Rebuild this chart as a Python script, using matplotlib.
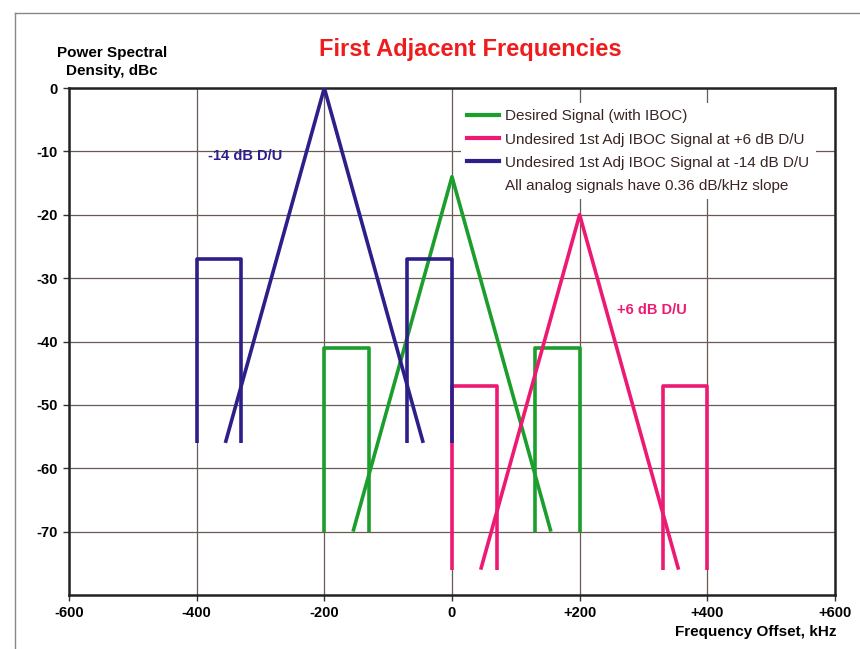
import matplotlib
matplotlib.use('Agg')
import matplotlib.pyplot as plt
from matplotlib.lines import Line2D

plt.rcParams['font.family'] = ['Liberation Sans', 'DejaVu Sans']
plt.rcParams['axes.unicode_minus'] = False

# Tick positions and labels
x_ticks = [-600, -400, -200, 0, 200, 400, 600]
x_labels = ['-600', '-400', '-200', '0', '+200', '+400', '+600']
y_ticks = [0, -10, -20, -30, -40, -50, -60, -70]
y_labels = ['0', '-10', '-20', '-30', '-40', '-50', '-60', '-70']

# Desired signal (with IBOC), centred at 0 kHz
desired_analog_x = [-155, 0, 155]
desired_analog_y = [-70, -14, -70]
desired_lo_x = [-200, -200, -130, -130]
desired_lo_y = [-70, -41, -41, -70]
desired_hi_x = [130, 130, 200, 200]
desired_hi_y = [-70, -41, -41, -70]

# Undesired 1st adjacent at +6 dB D/U, centred at +200 kHz
upper_analog_x = [45, 200, 355]
upper_analog_y = [-76, -20, -76]
upper_lo_x = [0, 0, 70, 70]
upper_lo_y = [-76, -47, -47, -76]
upper_hi_x = [330, 330, 400, 400]
upper_hi_y = [-76, -47, -47, -76]

# Undesired 1st adjacent at -14 dB D/U, centred at -200 kHz
lower_analog_x = [-355, -200, -45]
lower_analog_y = [-56, 0, -56]
lower_lo_x = [-400, -400, -330, -330]
lower_lo_y = [-56, -27, -27, -56]
lower_hi_x = [-70, -70, 0, 0]
lower_hi_y = [-56, -27, -27, -56]

green = '#1c9e2c'
pink = '#ec1a72'
navy = '#2c1f8a'

fig = plt.figure(figsize=(8.6, 6.49), dpi=100)
ax = fig.add_axes([0.0802, 0.0832, 0.8907, 0.7812])

lw = 2.6
for xs, ys in [(desired_analog_x, desired_analog_y), (desired_lo_x, desired_lo_y), (desired_hi_x, desired_hi_y)]:
    ax.plot(xs, ys, color=green, lw=lw, solid_capstyle='butt', zorder=3)
for xs, ys in [(upper_analog_x, upper_analog_y), (upper_lo_x, upper_lo_y), (upper_hi_x, upper_hi_y)]:
    ax.plot(xs, ys, color=pink, lw=lw, solid_capstyle='butt', zorder=3)
for xs, ys in [(lower_analog_x, lower_analog_y), (lower_lo_x, lower_lo_y), (lower_hi_x, lower_hi_y)]:
    ax.plot(xs, ys, color=navy, lw=lw, solid_capstyle='butt', zorder=3)

ax.set_xlim(-600, 600)
ax.set_ylim(-80, 0)
ax.set_xticks(x_ticks)
ax.set_xticklabels(x_labels)
ax.set_yticks(y_ticks)
ax.set_yticklabels(y_labels)
ax.tick_params(length=4, width=1, color='#333333', labelsize=10.5, pad=4)
for lab in ax.get_xticklabels() + ax.get_yticklabels():
    lab.set_fontweight('bold')
ax.grid(True, color='#6a5a55', lw=0.9, zorder=1)
ax.set_axisbelow(True)
for s in ax.spines.values():
    s.set_color('#222222')
    s.set_linewidth(1.8)

ax.text(-382, -10.7, '-14 dB D/U', color=navy, fontsize=10.5, fontweight='bold', va='center', ha='left')
ax.text(258, -35, '+6 dB D/U', color=pink, fontsize=10.5, fontweight='bold', va='center', ha='left')

handles = [
    Line2D([], [], color=green, lw=3),
    Line2D([], [], color=pink, lw=3),
    Line2D([], [], color=navy, lw=3),
    Line2D([], [], color='none', lw=0),
]
labels = [
    'Desired Signal (with IBOC)',
    'Undesired 1st Adj IBOC Signal at +6 dB D/U',
    'Undesired 1st Adj IBOC Signal at -14 dB D/U',
    'All analog signals have 0.36 dB/kHz slope',
]
leg = ax.legend(handles, labels, loc='upper left', bbox_to_anchor=(0.502, 0.985),
                frameon=True, framealpha=1, edgecolor='none', fancybox=False,
                fontsize=11, handlelength=2.1, handletextpad=0.4,
                labelspacing=0.6, borderpad=0.4)
for t in leg.get_texts():
    t.set_color('#3a2424')
leg.set_zorder(5)

fig.text(0.547, 0.923, 'First Adjacent Frequencies', color='#ee1c1c', fontsize=17,
         fontweight='bold', ha='center', va='center')
fig.text(0.130, 0.905, 'Power Spectral\nDensity, dBc', fontsize=11, fontweight='bold',
         ha='center', va='center', linespacing=1.38)
fig.text(0.973, 0.026, 'Frequency Offset, kHz', fontsize=11, fontweight='bold',
         ha='right', va='center')

# thin page border at left and top
fig.add_artist(Line2D([0.017, 0.017], [0.0, 0.98], transform=fig.transFigure, color='#888888', lw=1))
fig.add_artist(Line2D([0.017, 1.0], [0.98, 0.98], transform=fig.transFigure, color='#888888', lw=1))

fig.savefig('out.png', dpi=100)
